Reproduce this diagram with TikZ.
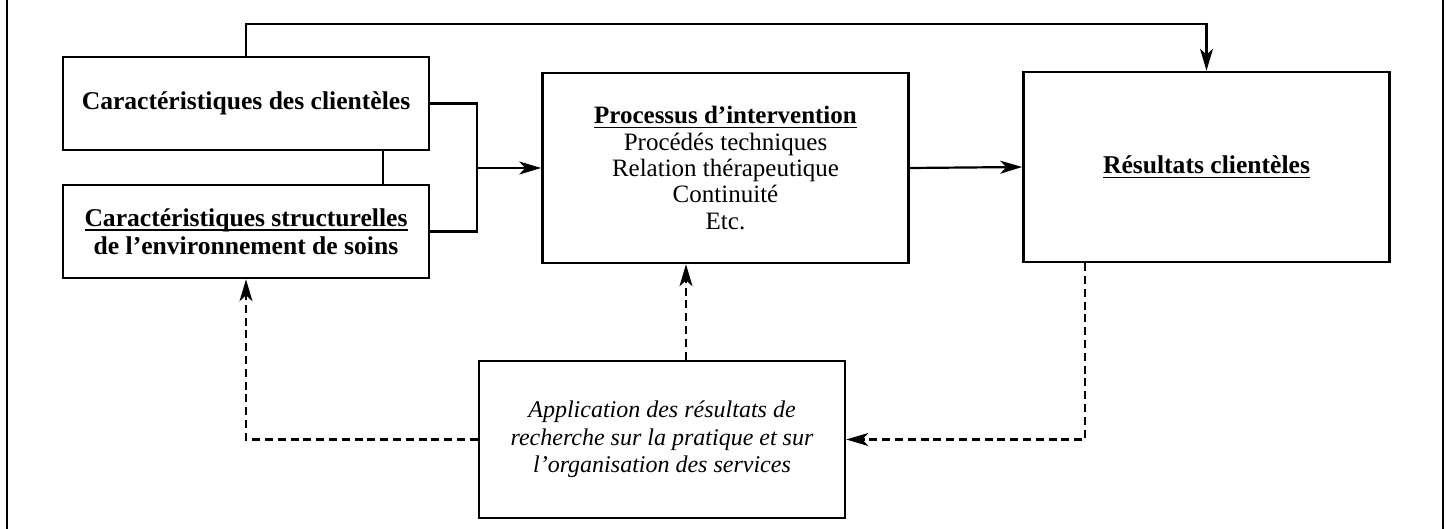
\documentclass[tikz,border=0pt]{standalone}
\usepackage{fontspec}
\setmainfont{Liberation Serif}
\usetikzlibrary{arrows.meta, calc}

% underline close to the baseline
\newcommand{\ulbox}[1]{\setbox0\hbox{#1}\rlap{\rule[-2.2pt]{\wd0}{0.6pt}}\box0}

\tikzset{
    box/.style={draw, line width=1.3pt, minimum width=183pt, inner sep=0pt, align=center,
        font=\fontsize{12.5}{13.2}\selectfont},
    boldbox/.style={box, font=\bfseries\fontsize{12.8}{14}\selectfont},
    link/.style={line width=1.1pt},
    tip/.style={-{Stealth[length=11pt, width=6.5pt, inset=3pt]}},
    dashlink/.style={link, dash pattern=on 4pt off 2.4pt},
}

\begin{document}
\begin{tikzpicture}[x=0.5pt, y=-0.5pt]
    \useasboundingbox (0,0) rectangle (1447,529);
    \draw [line width=1.3pt] (7,0) -- (7,529);
    \draw [line width=1.3pt] (1443,0) -- (1443,529);

    \node [boldbox, minimum height=46.5pt] (clients) at (246,103.5)
        {Caractéristiques des clientèles};
    \node [boldbox, minimum height=46.5pt] (structure) at (246,231.5)
        {\ulbox{Caractéristiques structurelles}\\de l’environnement de soins};
    \node [box, minimum height=95pt] (process) at (725.5,168)
        {\ulbox{\bfseries Processus d’intervention}\\Procédés techniques\\Relation thérapeutique\\Continuité\\Etc.};
    \node [boldbox, minimum height=95pt] (results) at (1206.5,167)
        {\ulbox{Résultats clientèles}};
    \node [box, minimum height=78.5pt, font=\itshape\fontsize{12}{13.75}\selectfont] (apply) at (662,439.5)
        {Application des résultats de\\recherche sur la pratique et sur\\l’organisation des services};

    \coordinate (join) at (477,168);
    \draw [link] ([xshift=68.5pt]clients.south) -- ([xshift=68.5pt]structure.north);
    \draw [link] (clients.east) -| (join) |- (structure.east);
    \draw [link, tip] (join) -- (process.west);
    \draw [link, tip] (process.east) -- (results.west);
    \draw [link, tip] (clients.north) -- ++(0,-32) -| (results.north);

    \draw [dashlink, tip] (apply.west) -| (structure.south);
    \draw [dashlink, tip] ([xshift=12pt]apply.north) -- ([xshift=12pt]apply.north |- process.south);
    \draw [dashlink, tip] ([xshift=31.5pt]results.south west) |- (apply.east);
\end{tikzpicture}
\end{document}
